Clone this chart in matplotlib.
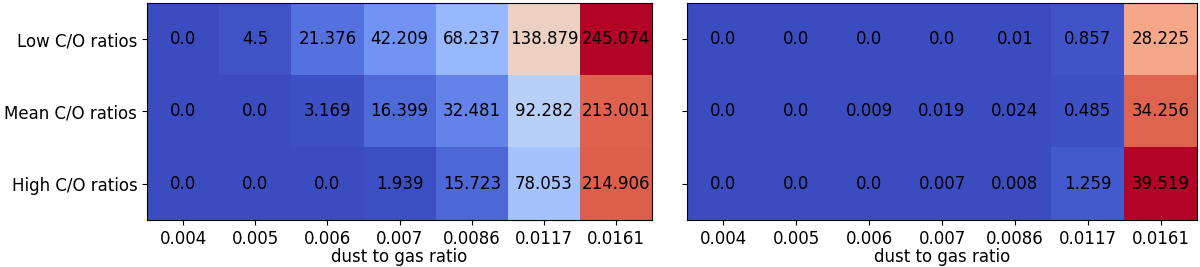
import numpy as np
import matplotlib
matplotlib.use("Agg")
import matplotlib.pyplot as plt

dust_to_gas = ["0.004", "0.005", "0.006", "0.007", "0.0086", "0.0117", "0.0161"]
co_labels = ["Low C/O ratios", "Mean C/O ratios", "High C/O ratios"]

left_low = [0.0, 4.5, 21.376, 42.209, 68.237, 138.879, 245.074]
left_mean = [0.0, 0.0, 3.169, 16.399, 32.481, 92.282, 213.001]
left_high = [0.0, 0.0, 0.0, 1.939, 15.723, 78.053, 214.906]

right_low = [0.0, 0.0, 0.0, 0.0, 0.01, 0.857, 28.225]
right_mean = [0.0, 0.0, 0.009, 0.019, 0.024, 0.485, 34.256]
right_high = [0.0, 0.0, 0.0, 0.007, 0.008, 1.259, 39.519]

left = np.array([left_low, left_mean, left_high])
right = np.array([right_low, right_mean, right_high])

fs = 12

fig = plt.figure(figsize=(12, 2.67), dpi=100)
ax1 = fig.add_axes([0.1225, 0.176, 0.421, 0.813])
ax2 = fig.add_axes([0.5725, 0.176, 0.425, 0.813])

for ax, data in [(ax1, left), (ax2, right)]:
    ax.imshow(data, cmap="coolwarm", aspect="auto")
    for i in range(data.shape[0]):
        for j in range(data.shape[1]):
            ax.text(j, i, str(data[i, j]), ha="center", va="center",
                    color="black", fontsize=fs)
    ax.set_xticks(range(len(dust_to_gas)))
    ax.set_xticklabels(dust_to_gas, fontsize=fs)
    ax.set_yticks(range(len(co_labels)))
    ax.set_xlabel("dust to gas ratio", fontsize=fs, labelpad=0)

ax1.set_yticklabels(co_labels, fontsize=fs)
ax2.set_yticklabels([])

fig.savefig("out.png", dpi=100)
